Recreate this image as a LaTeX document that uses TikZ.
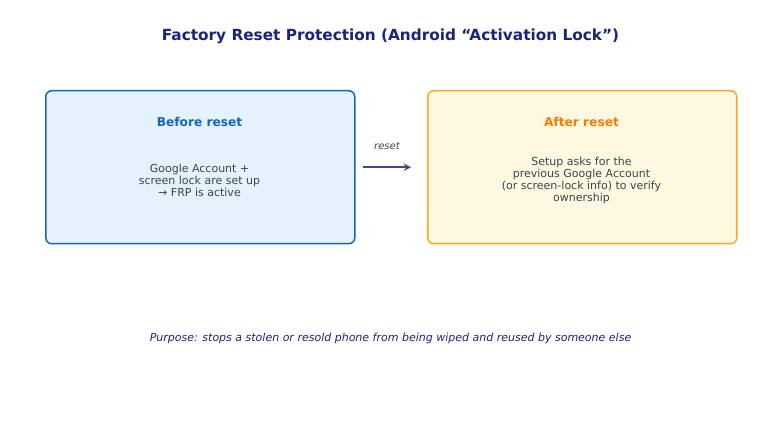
\documentclass[tikz,border=0pt]{standalone}
\usepackage{fontspec}
\setmainfont{DejaVu Sans}
\begin{document}
\begin{tikzpicture}[x=1pt,y=-1pt,
  box/.style={draw, line width=1.5pt, rounded corners=6pt, minimum width=309pt, minimum height=153pt, anchor=north west},
  hd/.style={font=\fontsize{12.2}{15}\selectfont\bfseries},
  bd/.style={font=\fontsize{11}{12}\selectfont, text=body, align=center}]
\definecolor{navy}{HTML}{1A237E}
\definecolor{body}{HTML}{37474F}
\definecolor{bl}{HTML}{1565C0}
\definecolor{blf}{HTML}{E3F2FD}
\definecolor{or}{HTML}{F9A825}
\definecolor{orf}{HTML}{FFF8E1}
\definecolor{ort}{HTML}{F57C00}
\definecolor{arr}{HTML}{3F4A80}
\useasboundingbox (0,0) rectangle (781,430);
\node[font=\fontsize{15.3}{18}\selectfont\bfseries, text=navy] (title) at (390.5,36) {Factory Reset Protection (Android “Activation Lock”)};
\node[box, draw=bl, fill=blf] (before) at (45,90) {};
\node[box, draw=or, fill=orf] (after) at (427,90) {};
\node[hd, text=bl] (bh) at (199.5,122) {Before reset};
\node[hd, text=ort] (ah) at (581.5,122) {After reset};
\node[bd] (bt) at (199.5,180) {Google Account +\\screen lock are set up\\→ FRP is active};
\node[bd] (at) at (581.5,180) {Setup asks for the\\previous Google Account\\(or screen-lock info) to verify\\ownership};
\draw[->, >=stealth, line width=2.2pt, draw=arr] (before.east) ++(7,0) coordinate (s) -- ([xshift=-16pt]after.west) coordinate (e);
\node[font=\fontsize{10}{12}\selectfont\itshape, text=body] (rl) at (387,146) {reset};
\node[font=\fontsize{11}{13}\selectfont\itshape, text=navy] (purpose) at (390.5,338) {Purpose: stops a stolen or resold phone from being wiped and reused by someone else};
\end{tikzpicture}
\end{document}
